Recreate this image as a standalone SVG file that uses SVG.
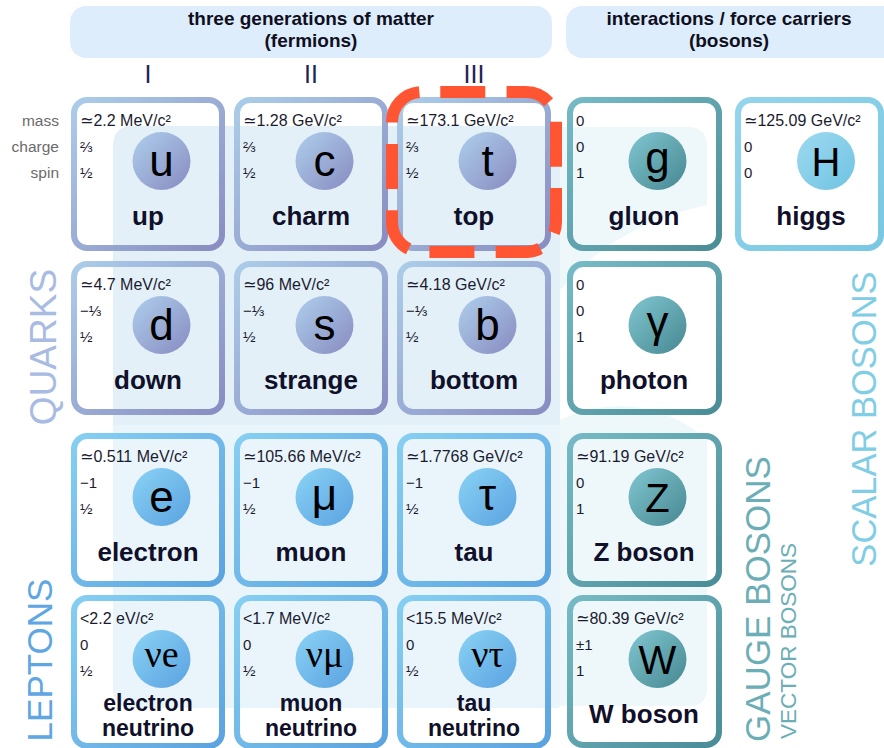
<svg xmlns="http://www.w3.org/2000/svg" width="884" height="748" viewBox="0 0 884 748">
<defs>
<linearGradient id="bq" x1="0" y1="0" x2="1" y2="1"><stop offset="0" stop-color="#abcde9"/><stop offset="1" stop-color="#898cc1"/></linearGradient>
<linearGradient id="bl" x1="0" y1="0" x2="1" y2="1"><stop offset="0" stop-color="#86cff2"/><stop offset="1" stop-color="#5ba3e0"/></linearGradient>
<linearGradient id="bg" x1="0" y1="0" x2="1" y2="1"><stop offset="0" stop-color="#75bac6"/><stop offset="1" stop-color="#4b8d96"/></linearGradient>
<linearGradient id="bh" x1="0" y1="0" x2="1" y2="1"><stop offset="0" stop-color="#94d5ec"/><stop offset="1" stop-color="#79c7e3"/></linearGradient>
<linearGradient id="cq" x1="0" y1="0" x2="1" y2="1"><stop offset="0" stop-color="#aecfec"/><stop offset="1" stop-color="#888bc0"/></linearGradient>
<linearGradient id="cl" x1="0" y1="0" x2="1" y2="1"><stop offset="0" stop-color="#8ad3f5"/><stop offset="1" stop-color="#5aa2e0"/></linearGradient>
<linearGradient id="cg" x1="0" y1="0" x2="1" y2="1"><stop offset="0" stop-color="#80c6d1"/><stop offset="1" stop-color="#478891"/></linearGradient>
<linearGradient id="ch" x1="0" y1="0" x2="1" y2="1"><stop offset="0" stop-color="#9edaef"/><stop offset="1" stop-color="#6fc3e3"/></linearGradient>
</defs>
<style>
text{font-family:"Liberation Sans","DejaVu Sans",sans-serif}
.hd{font-size:19px;font-weight:bold;fill:#0f0f1e;text-anchor:middle}
.gen{font-size:25px;fill:#1e2455;text-anchor:middle}
.lb{font-size:15.5px;fill:#6b6b6b;text-anchor:end}
.m{font-size:16px;fill:#1b1b30}
.f{font-size:15px;fill:#1b1b30}
.nm{font-size:26px;font-weight:bold;fill:#10102a;text-anchor:middle}
.nm2{font-size:23px;font-weight:bold;fill:#10102a;text-anchor:middle}
.s{font-size:44px;fill:#000;text-anchor:middle}
.S{font-size:40px;fill:#000;text-anchor:middle}
.sn{font-family:"Liberation Serif","DejaVu Serif",serif;font-size:38px;fill:#000;text-anchor:middle}
.cq{fill:none;stroke:url(#bq);stroke-width:6}
.cl{fill:none;stroke:url(#bl);stroke-width:6}
.cg{fill:none;stroke:url(#bg);stroke-width:6}
.ch{fill:none;stroke:url(#bh);stroke-width:6}
</style>

<g id="headers">
<rect x="70" y="6" width="482" height="52" rx="16" fill="#deedfc"/>
<rect x="566" y="6" width="340" height="52" rx="16" fill="#deedfc"/>
<text class="hd" x="311" y="25">three generations of matter</text>
<text class="hd" x="311" y="47">(fermions)</text>
<text class="hd" x="729" y="25">interactions / force carriers</text>
<text class="hd" x="729" y="47">(bosons)</text>
<text class="gen" x="148" y="83">I</text>
<text class="gen" x="311" y="83">II</text>
<text class="gen" x="474" y="83">III</text>
</g>

<g id="row-labels">
<text class="lb" x="59" y="125.5">mass</text>
<text class="lb" x="59" y="151.5">charge</text>
<text class="lb" x="59" y="177.5">spin</text>
</g>

<g id="backgrounds">
<path d="M113,146 Q113,126 133,126 H540 Q560,126 560,146 V425 H113 Z" fill="#e3f0f8"/>
<path d="M113,425 H560 V706 Q560,708 558,708 H133 Q113,708 113,688 Z" fill="#eaf5fb"/>
<path d="M560,127 H688 Q707,127 707,146 V205 C660,215 600,240 560,290 Z" fill="#eef7fa"/>
<path d="M560,420 C600,400 660,398 707,440 V688 Q707,706 689,706 H560 Z" fill="#eef8fa"/>
</g>

<g id="up">
<rect class="cq" x="74" y="100" width="148" height="148" rx="13"/>
<text class="m" x="80" y="125.5">≃2.2 MeV/c²</text><text class="f" x="80" y="151.5">⅔</text><text class="f" x="80" y="177.5">½</text>
<circle cx="161.5" cy="161" r="29" fill="url(#cq)"/><text class="s" x="161.5" y="176">u</text>
<text class="nm" x="148" y="225">up</text>
</g>
<g id="charm">
<rect class="cq" x="237" y="100" width="148" height="148" rx="13"/>
<text class="m" x="243" y="125.5">≃1.28 GeV/c²</text><text class="f" x="243" y="151.5">⅔</text><text class="f" x="243" y="177.5">½</text>
<circle cx="324.5" cy="161" r="29" fill="url(#cq)"/><text class="s" x="324.5" y="176">c</text>
<text class="nm" x="311" y="225">charm</text>
</g>
<g id="top">
<rect class="cq" x="400" y="100" width="148" height="148" rx="13"/>
<text class="m" x="406" y="125.5">≃173.1 GeV/c²</text><text class="f" x="406" y="151.5">⅔</text><text class="f" x="406" y="177.5">½</text>
<circle cx="487.5" cy="161" r="29" fill="url(#cq)"/><text class="s" x="487.5" y="176">t</text>
<text class="nm" x="474" y="225">top</text>
</g>
<g id="gluon">
<rect class="cg" x="570" y="100" width="149" height="148" rx="13"/>
<text class="f" x="576" y="125.5">0</text><text class="f" x="576" y="151.5">0</text><text class="f" x="576" y="177.5">1</text>
<circle cx="657.5" cy="161" r="29" fill="url(#cg)"/><text class="s" x="657.5" y="173">g</text>
<text class="nm" x="644" y="225">gluon</text>
</g>
<g id="higgs">
<rect class="ch" x="738" y="100" width="143" height="148" rx="13"/>
<text class="m" x="744" y="125.5">≃125.09 GeV/c²</text><text class="f" x="744" y="151.5">0</text><text class="f" x="744" y="177.5">0</text>
<circle cx="826" cy="161" r="29" fill="url(#ch)"/><text class="S" x="826" y="176">H</text>
<text class="nm" x="811" y="225">higgs</text>
</g>

<g id="down">
<rect class="cq" x="74" y="264" width="148" height="148" rx="13"/>
<text class="m" x="80" y="289.5">≃4.7 MeV/c²</text><text class="f" x="80" y="315.5">−⅓</text><text class="f" x="80" y="341.5">½</text>
<circle cx="161.5" cy="325" r="29" fill="url(#cq)"/><text class="s" x="161.5" y="340">d</text>
<text class="nm" x="148" y="389">down</text>
</g>
<g id="strange">
<rect class="cq" x="237" y="264" width="148" height="148" rx="13"/>
<text class="m" x="243" y="289.5">≃96 MeV/c²</text><text class="f" x="243" y="315.5">−⅓</text><text class="f" x="243" y="341.5">½</text>
<circle cx="324.5" cy="325" r="29" fill="url(#cq)"/><text class="s" x="324.5" y="340">s</text>
<text class="nm" x="311" y="389">strange</text>
</g>
<g id="bottom">
<rect class="cq" x="400" y="264" width="148" height="148" rx="13"/>
<text class="m" x="406" y="289.5">≃4.18 GeV/c²</text><text class="f" x="406" y="315.5">−⅓</text><text class="f" x="406" y="341.5">½</text>
<circle cx="487.5" cy="325" r="29" fill="url(#cq)"/><text class="s" x="487.5" y="340">b</text>
<text class="nm" x="474" y="389">bottom</text>
</g>
<g id="photon">
<rect class="cg" x="570" y="264" width="149" height="148" rx="13"/>
<text class="f" x="576" y="289.5">0</text><text class="f" x="576" y="315.5">0</text><text class="f" x="576" y="341.5">1</text>
<circle cx="657.5" cy="325" r="29" fill="url(#cg)"/><text class="s" x="657.5" y="337">γ</text>
<text class="nm" x="644" y="389">photon</text>
</g>

<g id="electron">
<rect class="cl" x="74" y="436" width="148" height="148" rx="13"/>
<text class="m" x="80" y="461.5">≃0.511 MeV/c²</text><text class="f" x="80" y="487.5">−1</text><text class="f" x="80" y="513.5">½</text>
<circle cx="161.5" cy="497" r="29" fill="url(#cl)"/><text class="s" x="161.5" y="512">e</text>
<text class="nm" x="148" y="561">electron</text>
</g>
<g id="muon">
<rect class="cl" x="237" y="436" width="148" height="148" rx="13"/>
<text class="m" x="243" y="461.5">≃105.66 MeV/c²</text><text class="f" x="243" y="487.5">−1</text><text class="f" x="243" y="513.5">½</text>
<circle cx="324.5" cy="497" r="29" fill="url(#cl)"/><text class="s" x="324.5" y="510">μ</text>
<text class="nm" x="311" y="561">muon</text>
</g>
<g id="tau">
<rect class="cl" x="400" y="436" width="148" height="148" rx="13"/>
<text class="m" x="406" y="461.5">≃1.7768 GeV/c²</text><text class="f" x="406" y="487.5">−1</text><text class="f" x="406" y="513.5">½</text>
<circle cx="487.5" cy="497" r="29" fill="url(#cl)"/><text class="s" x="487.5" y="510">τ</text>
<text class="nm" x="474" y="561">tau</text>
</g>
<g id="z-boson">
<rect class="cg" x="570" y="436" width="149" height="148" rx="13"/>
<text class="m" x="576" y="461.5">≃91.19 GeV/c²</text><text class="f" x="576" y="487.5">0</text><text class="f" x="576" y="513.5">1</text>
<circle cx="657.5" cy="497" r="29" fill="url(#cg)"/><text class="S" x="657.5" y="512">Z</text>
<text class="nm" x="644" y="561">Z boson</text>
</g>

<g id="electron-neutrino">
<rect class="cl" x="74" y="598" width="148" height="148" rx="13"/>
<text class="m" x="80" y="623.5">&lt;2.2 eV/c²</text><text class="f" x="80" y="649.5">0</text><text class="f" x="80" y="675.5">½</text>
<circle cx="161.5" cy="659" r="29" fill="url(#cl)"/><text class="sn" x="161.5" y="667">νe</text>
<text class="nm2" x="148" y="711">electron</text><text class="nm2" x="148" y="736">neutrino</text>
</g>
<g id="muon-neutrino">
<rect class="cl" x="237" y="598" width="148" height="148" rx="13"/>
<text class="m" x="243" y="623.5">&lt;1.7 MeV/c²</text><text class="f" x="243" y="649.5">0</text><text class="f" x="243" y="675.5">½</text>
<circle cx="324.5" cy="659" r="29" fill="url(#cl)"/><text class="sn" x="324.5" y="667">νμ</text>
<text class="nm2" x="311" y="711">muon</text><text class="nm2" x="311" y="736">neutrino</text>
</g>
<g id="tau-neutrino">
<rect class="cl" x="400" y="598" width="148" height="148" rx="13"/>
<text class="m" x="406" y="623.5">&lt;15.5 MeV/c²</text><text class="f" x="406" y="649.5">0</text><text class="f" x="406" y="675.5">½</text>
<circle cx="487.5" cy="659" r="29" fill="url(#cl)"/><text class="sn" x="487.5" y="667">ντ</text>
<text class="nm2" x="474" y="711">tau</text><text class="nm2" x="474" y="736">neutrino</text>
</g>
<g id="w-boson">
<rect class="cg" x="570" y="598" width="149" height="147" rx="13"/>
<text class="m" x="576" y="623.5">≃80.39 GeV/c²</text><text class="f" x="576" y="649.5">±1</text><text class="f" x="576" y="675.5">1</text>
<circle cx="657.5" cy="659" r="29" fill="url(#cg)"/><text class="S" x="657.5" y="674">W</text>
<text class="nm" x="644" y="723">W boson</text>
</g>

<g id="top-highlight">
<rect x="392" y="92" width="164" height="160" rx="30" fill="none" stroke="#ff5533" stroke-width="12" stroke-dasharray="45 21.28" stroke-dashoffset="48"/>
</g>

<g id="group-labels">
<text transform="translate(56,347) rotate(-90)" text-anchor="middle" font-size="37" fill="#a8bbe3">QUARKS</text>
<text transform="translate(52,660) rotate(-90)" text-anchor="middle" font-size="35" fill="#5ea6e4">LEPTONS</text>
<text transform="translate(770,599) rotate(-90)" text-anchor="middle" font-size="35" fill="#6caeb5">GAUGE BOSONS</text>
<text transform="translate(796,641) rotate(-90)" text-anchor="middle" font-size="22.5" fill="#6caeb5">VECTOR BOSONS</text>
<text transform="translate(876,419) rotate(-90)" text-anchor="middle" font-size="34.5" fill="#80cde6">SCALAR BOSONS</text>
</g>
</svg>
